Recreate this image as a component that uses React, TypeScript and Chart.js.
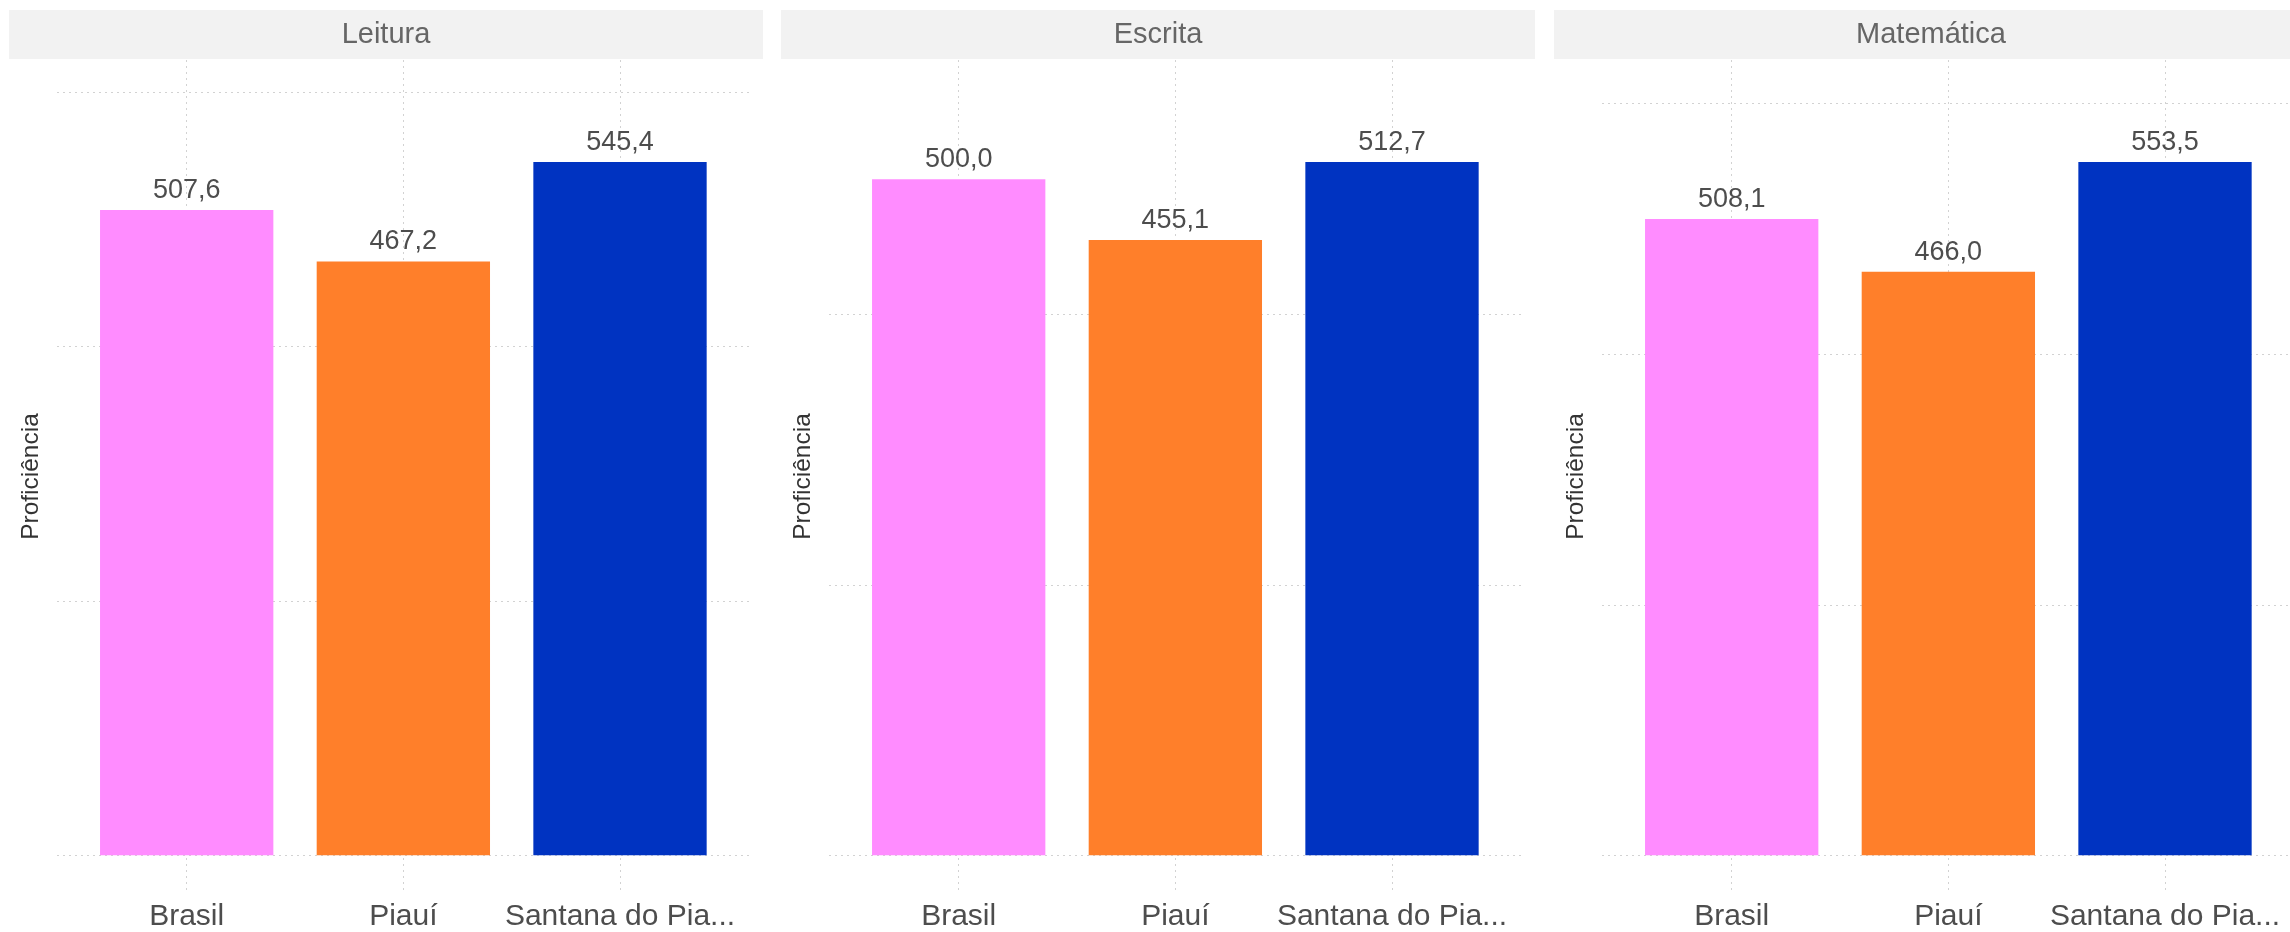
import React, { useEffect, useRef } from 'react';
import { Chart, registerables } from 'chart.js';

Chart.register(...registerables);

// ---- data ----
const categories = ['Brasil', 'Piauí', 'Santana do Pia...'];
const subjects = ['Leitura', 'Escrita', 'Matemática'];
const leituraValues = [507.6, 467.2, 545.4];
const escritaValues = [500.0, 455.1, 512.7];
const matematicaValues = [508.1, 466.0, 553.5];
const barColors = ['#ff8cff', '#ff7f2a', '#0033c1'];
const yAxisTitle = 'Proficiência';
const yGridValues = [0, 200, 400, 600];

const panelSeries = [leituraValues, escritaValues, matematicaValues];

// ---- styles ----
const REGULAR = "'Liberation Sans', Arial, Helvetica, sans-serif";
const GRID_COLOR = '#d2d2d2';
const PANEL_LEFTS = [0, 772, 1545];
const PANEL_W = 772;
const FIG_W = 2290;
const FIG_H = 932;

const fmt = (v: number) => v.toFixed(1).replace('.', ',');

const stripPlugin = {
  id: 'strip',
  beforeDraw(chart: any, _args: any, opts: any) {
    const ctx = chart.ctx;
    const { left, right } = chart.chartArea;
    const x0 = left - 47.7;
    const x1 = right + 13;
    ctx.save();
    ctx.fillStyle = '#f2f2f2';
    ctx.fillRect(x0, 10, x1 - x0, 49);
    ctx.font = `29px ${REGULAR}`;
    ctx.fillStyle = '#666666';
    ctx.textAlign = 'center';
    ctx.textBaseline = 'middle';
    ctx.fillText(opts.text, (x0 + x1) / 2, 35);
    ctx.restore();
  },
};

const valueLabelPlugin = {
  id: 'valueLabels',
  afterDatasetsDraw(chart: any) {
    const ctx = chart.ctx;
    const meta = chart.getDatasetMeta(0);
    const ds = chart.data.datasets[0];
    ctx.save();
    ctx.font = `27px ${REGULAR}`;
    ctx.fillStyle = '#4d4d4d';
    ctx.textAlign = 'center';
    ctx.textBaseline = 'alphabetic';
    meta.data.forEach((bar: any, i: number) => {
      const v = ds.data[i].y;
      ctx.fillText(fmt(v), bar.x, bar.y - 12);
    });
    ctx.restore();
  },
};

function Panel({ subject, values, left }: { subject: string; values: number[]; left: number }) {
  const ref = useRef<HTMLCanvasElement | null>(null);

  useEffect(() => {
    if (!ref.current) return;
    const maxVal = Math.max(...values);
    const yMin = -0.0537 * maxVal;
    const yMax = 1.147 * maxVal;
    const chart = new Chart(ref.current, {
      type: 'bar',
      data: {
        datasets: [
          {
            data: values.map((v, i) => ({ x: i, y: v })),
            backgroundColor: barColors,
            borderWidth: 0,
            categoryPercentage: 1,
            barPercentage: 0.8,
          } as any,
        ],
      },
      options: {
        animation: false,
        responsive: true,
        maintainAspectRatio: false,
        layout: { padding: { top: 60, right: 22, bottom: 0, left: 0 } },
        plugins: {
          legend: { display: false },
          tooltip: { enabled: false },
          strip: { text: subject },
        } as any,
        scales: {
          x: {
            type: 'linear',
            offset: false,
            bounds: 'data',
            min: -0.6,
            max: categories.length - 0.4,
            afterBuildTicks: (s: any) => {
              s.ticks = categories.map((_, i) => ({ value: i }));
            },
            afterFit: (s: any) => {
              s.height = 39;
            },
            grid: { color: GRID_COLOR, lineWidth: 1, drawTicks: false, offset: false },
            border: { display: false, dash: [2, 4] },
            ticks: {
              autoSkip: false,
              maxRotation: 0,
              minRotation: 0,
              padding: 6,
              color: '#4d4d4d',
              font: { family: REGULAR, size: 30 },
              callback: (v: any) => categories[v as number] ?? '',
            },
          },
          y: {
            type: 'linear',
            bounds: 'data',
            min: yMin,
            max: yMax,
            afterBuildTicks: (s: any) => {
              s.ticks = yGridValues.filter((v) => v >= yMin && v <= yMax).map((v) => ({ value: v }));
            },
            afterFit: (s: any) => {
              s.width = 56.7;
            },
            grid: { color: GRID_COLOR, lineWidth: 1, drawTicks: false },
            border: { display: false, dash: [2, 4] },
            ticks: { display: false },
            title: {
              display: true,
              text: yAxisTitle,
              color: '#333333',
              font: { family: REGULAR, size: 24.5 },
              padding: { top: 16.3, bottom: 0 },
            },
          },
        },
      } as any,
      plugins: [stripPlugin, valueLabelPlugin],
    });
    return () => chart.destroy();
  }, [subject, values]);

  return (
    <div style={{ position: 'absolute', left, top: 0, width: PANEL_W, height: FIG_H }}>
      <canvas ref={ref} />
    </div>
  );
}

export default function App() {
  return (
    <div
      style={{
        position: 'absolute',
        left: 0,
        top: 0,
        width: FIG_W,
        height: FIG_H,
        overflow: 'hidden',
        background: '#ffffff',
      }}
    >
      {subjects.map((s, i) => (
        <Panel key={s} subject={s} values={panelSeries[i]} left={PANEL_LEFTS[i]} />
      ))}
    </div>
  );
}
